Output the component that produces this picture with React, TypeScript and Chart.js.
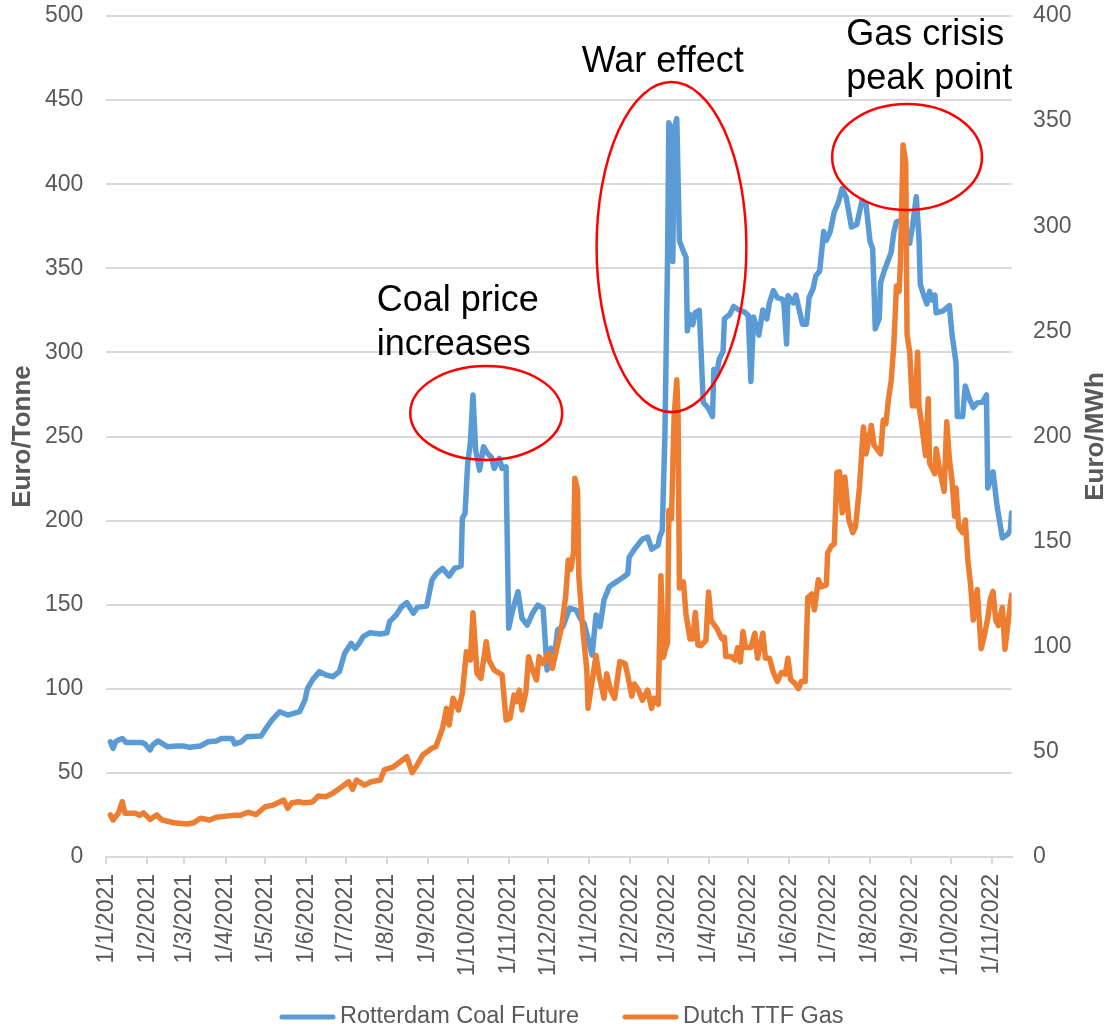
import React, { useEffect, useRef } from "react";
import { Chart, registerables } from "chart.js";

Chart.register(...registerables);

// ---- Data (x = days since 1/1/2021) ----
const coalDays = [3,5,7,9,12,15,20,27,29,33,35,39,46,53,58,63,71,77,83,87,95,97,102,106,117,121,125,131,137,146,150,152,156,161,166,171,176,180,185,188,191,194,199,207,212,214,219,223,227,232,235,242,246,249,254,259,263,268,269,271,273,275,277,279,282,285,288,291,293,297,299,302,304,307,311,314,318,322,326,330,333,336,339,341,345,350,355,358,361,367,370,373,376,380,383,390,394,395,399,405,409,412,417,418,420,422,424,425,427,428,429,431,433,436,438,439,441,443,445,448,451,455,458,459,461,463,466,467,471,474,478,482,485,487,489,493,496,499,501,504,507,511,512,514,515,519,521,526,529,531,534,536,539,542,544,547,550,553,556,559,563,567,571,574,577,579,581,584,585,588,590,593,595,597,602,604,607,609,612,614,615,618,620,622,624,626,627,632,637,639,642,643,647,649,652,655,658,662,665,666,670,673,677,681,683,684];
const coalValues = [68.5,64.6,68.5,69.5,70.5,68,68,68,67.3,63.6,66.6,69,65.6,66,66,65.2,66,68.5,69,70.5,70.5,67.2,68.5,71.5,72,77,81.4,86.4,84.4,86.4,93.3,100.3,105.6,110.2,108.2,107.2,110.2,121.1,127,124,127,131,133.3,132.6,133.3,139.9,143.9,148.8,151.2,144.9,148.4,149.2,164.7,168.2,171.6,167,171.6,173,201.4,204.3,234,246,274.7,242,230,243.9,240,237.6,231,237,231,232,136,146.8,157.7,141.9,137.9,144.9,149.8,147.9,111.2,124.1,122,135,137,147.9,146.8,141.9,138.9,120.1,143.9,137,152.8,160.7,162.4,166,168.4,178.2,183,189,190.2,183,185.4,190.2,193.9,249.7,354,436.5,431.7,354,432.9,439,366.2,360.1,356.5,312.8,322.5,316.4,323.7,325,270.4,266.7,261.9,289.8,286.1,295.8,300.7,320.1,322.5,327.3,325.2,324.1,322,282.7,321,310.3,325.2,319.9,329.4,336.8,332.6,331.6,328.4,305,333.7,329.4,334.1,316.7,316.7,332.6,337.9,345.3,348.5,371.9,366.6,372,383.6,388.9,397.4,392.1,374.5,376,390.3,388,366,361.7,314,320.3,341.5,349,353.2,359.6,371.3,377.6,378.7,368.1,364.9,374.5,392.5,368.1,340.5,333,328.8,336.3,331,334.1,323.5,324.6,327.8,310.7,293.7,261.9,261.9,280,272.5,267.2,270,270.4,274.7,219.4,229,208.8,189.7,191.8,194,204.6];

const gasDays = [3,5,9,12,14,22,25,28,33,38,42,51,61,66,71,78,83,96,101,107,113,120,126,134,137,140,145,149,154,156,160,166,171,178,183,186,189,195,200,207,210,217,222,227,231,234,239,246,249,254,257,259,262,266,269,272,275,277,280,283,287,289,293,299,302,305,308,310,312,314,317,319,322,325,327,330,334,337,340,344,347,349,351,353,354,356,357,360,363,364,366,370,372,376,378,381,384,388,392,394,397,399,402,405,409,412,414,417,419,421,422,424,425,427,429,431,432,433,436,438,441,443,445,447,449,453,455,457,461,465,467,468,472,475,477,479,481,483,487,490,492,496,498,501,504,507,510,513,515,517,520,523,525,528,530,533,535,538,540,544,545,548,550,552,554,556,558,561,564,566,569,572,574,578,580,583,585,587,589,591,593,595,597,599,600,602,604,605,607,609,611,613,614,616,619,621,622,626,627,629,633,635,637,639,641,642,644,647,649,651,653,655,658,661,663,666,668,670,672,674,677,679,681,684];
const gasValues = [20,17.6,20.8,26.3,20.8,20.8,19.8,21,17.9,20,17.6,16.3,15.7,16.3,18.4,17.6,18.9,19.8,19.8,21.3,20.2,23.9,24.7,27.1,23.2,25.7,26.3,25.8,26,26.3,29,28.7,30.3,33.4,35.8,32.2,36.6,34.2,35.8,36.6,41.4,42.9,45.3,47.7,40.1,42.9,48.5,51.7,52.5,61.2,70.7,62.8,75.5,69.9,77.9,97.6,93.7,116.2,87.4,85,102.4,93.7,88.9,86.6,65.2,66,77,73.9,79.4,69.9,78.6,95.3,88.9,84.2,95.3,92.1,96.9,89.7,98.4,109.5,123.8,141.3,136.8,145.2,180.1,174.5,133.3,108,88.9,70.7,79.4,95.9,87.2,75.5,87.2,79.4,75.5,93,92,86.2,76.5,82.3,79.4,74.6,79.4,70.7,75.5,72.6,133.8,95,97.9,101.7,164.8,160.9,209.5,227,209.5,127.9,130.9,115.3,103.7,103.7,116.3,100.8,100.5,103,126,112.4,109,103.9,104.6,95.4,95.4,93.7,99.6,92.8,107.3,99.6,99.6,106.4,94.5,106.4,94.5,94.5,87.7,83.5,87.7,86.9,94.5,84.4,82.7,80.1,83.5,83.5,123.4,125.1,117.5,131.9,128.5,129.4,144.6,148.1,148.9,182.9,183.2,163.7,180.7,160.3,154.3,156.9,175.5,204.5,191.7,205.3,195.9,193.4,191.7,207.8,206.1,218,226.5,243.5,271.6,269,282.5,338.6,330,248.6,240.1,214.6,214.6,240.1,214.6,206.1,190.9,218,187.4,182.3,194.2,186.6,173.9,207,189.1,179,162,175.5,156.9,154.3,160.3,140.7,129.7,112.7,127.2,99.1,104.2,113.6,122.9,126.3,112.7,110.1,118.7,98.8,109.7,124.6];

const tickDays = [0,31,59,90,120,151,181,212,243,273,304,334,365,396,424,455,485,516,546,577,608,638,669];
const tickLabels = ["1/1/2021","1/2/2021","1/3/2021","1/4/2021","1/5/2021","1/6/2021","1/7/2021","1/8/2021","1/9/2021","1/10/2021","1/11/2021","1/12/2021","1/1/2022","1/2/2022","1/3/2022","1/4/2022","1/5/2022","1/6/2022","1/7/2022","1/8/2022","1/9/2022","1/10/2022","1/11/2022"];

const seriesNames = ["Rotterdam Coal Future", "Dutch TTF Gas"];
const axisTitles = ["Euro/Tonne", "Euro/MWh"];

// annotations in data coordinates (day, left-axis value)
const ellipseCenters = [[287, 264], [427, 362.6], [605, 416.2]];
const ellipseRadii = [[57.4, 27.9], [56.6, 98.1], [56.6, 31.5]];
const noteTexts = [["Coal price", "increases"], ["War effect"], ["Gas crisis", "peak point"]];
const noteAnchors = [[204.3, 324.8], [359.1, 466.7], [559, 482.7]];

const FONT = "'Liberation Sans', Arial, Helvetica, sans-serif";
const GREY = "#595959";
const BLUE = "#5B9BD5";
const ORANGE = "#ED7D31";
const GRID = "#D9D9D9";

export default function App() {
  const ref = useRef<HTMLCanvasElement>(null);

  useEffect(() => {
    document.body.style.margin = "0";
    const canvas = ref.current!;
    const toPts = (d: number[], v: number[]) => d.map((x, i) => ({ x, y: v[i] }));

    const overlay = {
      id: "overlay",
      afterDatasetsDraw(chart: any) {
        const { ctx, scales } = chart;
        const xs = scales.x;
        const ys = scales.y;
        ctx.save();
        ctx.strokeStyle = "#FF0000";
        ctx.lineWidth = 2.5;
        ellipseCenters.forEach((c, i) => {
          const cx = xs.getPixelForValue(c[0]);
          const cy = ys.getPixelForValue(c[1]);
          const rx = Math.abs(xs.getPixelForValue(c[0] + ellipseRadii[i][0]) - cx);
          const ry = Math.abs(ys.getPixelForValue(c[1] + ellipseRadii[i][1]) - cy);
          ctx.beginPath();
          ctx.ellipse(cx, cy, rx, ry, 0, 0, Math.PI * 2);
          ctx.stroke();
        });
        ctx.fillStyle = "#000000";
        ctx.font = `36px ${FONT}`;
        ctx.textAlign = "left";
        ctx.textBaseline = "alphabetic";
        noteTexts.forEach((lines, i) => {
          const x = xs.getPixelForValue(noteAnchors[i][0]);
          const y = ys.getPixelForValue(noteAnchors[i][1]);
          lines.forEach((s, j) => ctx.fillText(s, x, y + j * 44));
        });
        ctx.restore();
      },
      afterDraw(chart: any) {
        const { ctx, chartArea } = chart;
        const midY = (chartArea.top + chartArea.bottom) / 2;
        ctx.save();
        ctx.fillStyle = GREY;
        ctx.font = `bold 26px ${FONT}`;
        ctx.textAlign = "center";
        ctx.textBaseline = "middle";
        [[23, axisTitles[0]], [1096, axisTitles[1]]].forEach(([x, t]) => {
          ctx.save();
          ctx.translate(x as number, midY);
          ctx.rotate(-Math.PI / 2);
          ctx.fillText(t as string, 0, 0);
          ctx.restore();
        });
        // legend
        const ly = 1017;
        ctx.lineCap = "round";
        ctx.lineWidth = 5;
        ctx.font = `23.5px ${FONT}`;
        ctx.textAlign = "left";
        const items: [string, string, number][] = [
          [BLUE, seriesNames[0], 282],
          [ORANGE, seriesNames[1], 625],
        ];
        items.forEach(([col, name, x0]) => {
          ctx.strokeStyle = col;
          ctx.beginPath();
          ctx.moveTo(x0, ly);
          ctx.lineTo(x0 + 51, ly);
          ctx.stroke();
          ctx.fillStyle = GREY;
          ctx.fillText(name, x0 + 58, ly);
        });
        ctx.restore();
      },
    };

    const chart = new Chart(canvas, {
      type: "line",
      data: {
        datasets: [
          {
            label: seriesNames[0],
            data: toPts(coalDays, coalValues),
            yAxisID: "y",
            borderColor: BLUE,
            backgroundColor: BLUE,
            borderWidth: 5.5,
            pointRadius: 0,
            borderJoinStyle: "round",
            borderCapStyle: "round",
            tension: 0,
            order: 1,
          },
          {
            label: seriesNames[1],
            data: toPts(gasDays, gasValues),
            yAxisID: "y1",
            borderColor: ORANGE,
            backgroundColor: ORANGE,
            borderWidth: 5.5,
            pointRadius: 0,
            borderJoinStyle: "round",
            borderCapStyle: "round",
            tension: 0,
            order: 0,
          },
        ],
      },
      options: {
        responsive: false,
        animation: false,
        devicePixelRatio: 1,
        layout: { padding: { top: 16, bottom: 0, left: 0, right: 0 } },
        plugins: { legend: { display: false }, tooltip: { enabled: false } },
        scales: {
          x: {
            type: "linear",
            min: 0,
            max: 684,
            afterBuildTicks: (s: any) => {
              s.ticks = tickDays.map((v) => ({ value: v }));
            },
            afterFit: (s: any) => {
              s.height = 171;
              s.paddingLeft = 0;
              s.paddingRight = 0;
            },
            ticks: {
              autoSkip: false,
              maxRotation: 90,
              minRotation: 90,
              padding: 10,
              color: GREY,
              font: { family: FONT, size: 23 },
              callback: (_v: any, i: number) => tickLabels[i],
            },
            grid: { drawOnChartArea: false, drawTicks: true, tickLength: 7, color: GRID, lineWidth: 2 },
            border: { color: GRID, width: 2 },
          },
          y: {
            position: "left",
            min: 0,
            max: 500,
            afterFit: (s: any) => {
              s.width = 106.4;
              s.paddingTop = 0;
              s.paddingBottom = 0;
            },
            ticks: { stepSize: 50, padding: 23, color: GREY, font: { family: FONT, size: 23 } },
            grid: { color: GRID, lineWidth: 2, drawTicks: false },
            border: { display: false },
          },
          y1: {
            position: "right",
            min: 0,
            max: 400,
            afterFit: (s: any) => {
              s.width = 98.4;
              s.paddingTop = 0;
              s.paddingBottom = 0;
            },
            ticks: { stepSize: 50, padding: 21.5, color: GREY, font: { family: FONT, size: 23 } },
            grid: { drawOnChartArea: false, drawTicks: false },
            border: { display: false },
          },
        },
      },
      plugins: [overlay],
    } as any);

    return () => chart.destroy();
  }, []);

  return (
    <div style={{ width: 1110, height: 1028, background: "#ffffff" }}>
      <canvas ref={ref} width={1110} height={1028} style={{ width: 1110, height: 1028, display: "block" }} />
    </div>
  );
}
